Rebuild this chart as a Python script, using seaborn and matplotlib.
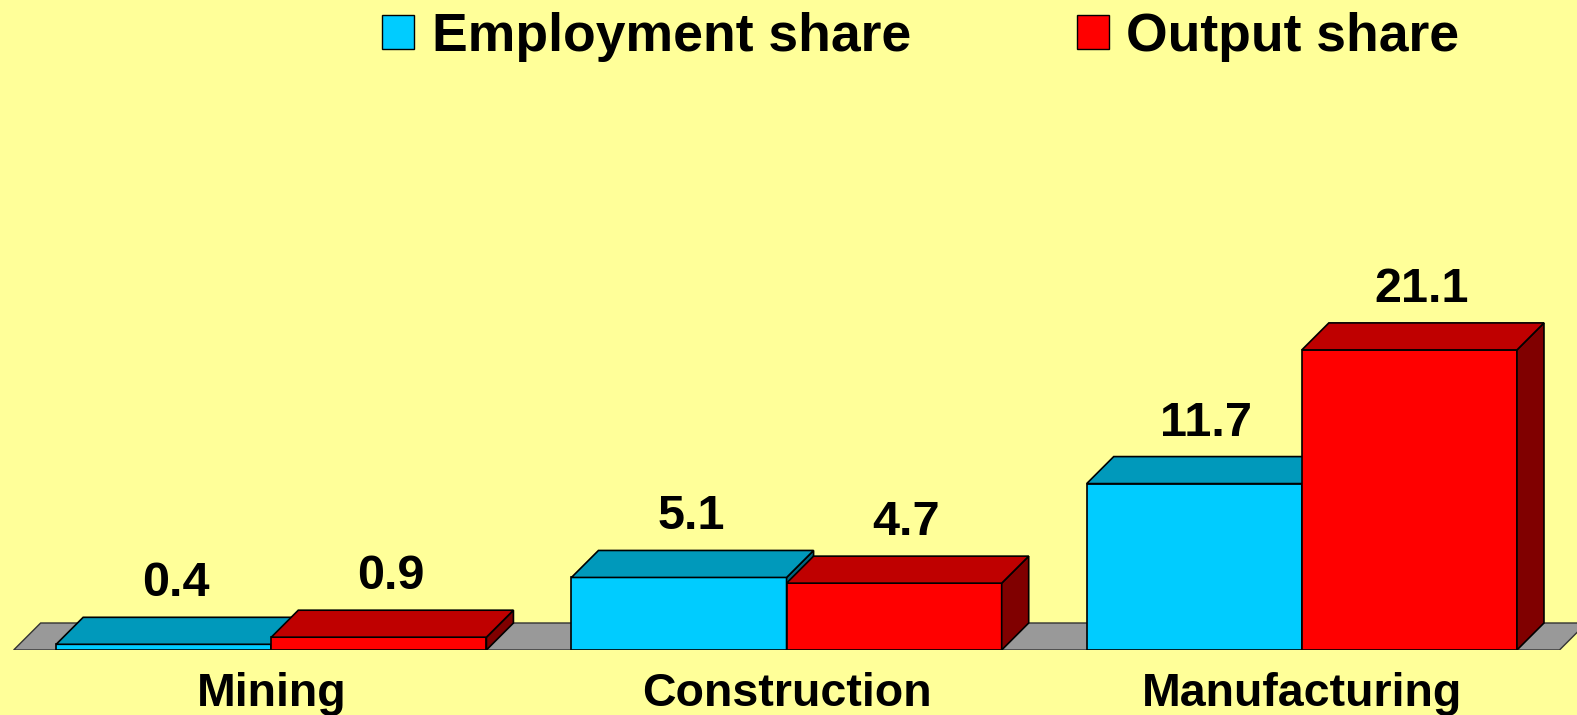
import pandas as pd
import matplotlib.pyplot as plt
from matplotlib.patches import Polygon, Patch
import seaborn as sns

# chart values
sectors = ['Mining', 'Construction', 'Manufacturing']
employment_share = [0.4, 5.1, 11.7]
output_share = [0.9, 4.7, 21.1]
series_names = ['Employment share', 'Output share']

# colours: front / top / side faces of the pseudo 3D bars
front_colors = ['#00CCFF', '#FF0000']
top_colors = ['#0099BB', '#BF0000']
side_colors = ['#006680', '#800000']
floor_color = '#999999'
bg = '#FFFF99'

df = pd.DataFrame({
    'sector': sectors * 2,
    'share': employment_share + output_share,
    'series': [series_names[0]] * len(sectors) + [series_names[1]] * len(sectors),
})

sns.set_theme(style='white')
plt.rcParams['font.family'] = ['Liberation Sans', 'DejaVu Sans']
plt.rcParams['font.weight'] = 'bold'
plt.rcParams['text.color'] = 'black'

fig = plt.figure(figsize=(15.77, 7.15), dpi=100, facecolor=bg)
ax = fig.add_axes([0, 65 / 715, 1, 650 / 715])
ax.set_facecolor('none')

sns.barplot(data=df, x='sector', y='share', hue='series', palette=front_colors,
            saturation=1, width=0.835, edgecolor='black', linewidth=1.2,
            legend=False, ax=ax)

ax.set_xlim(-0.5265, 2.534)
ax.set_ylim(0, 45.7)
ax.axis('off')

# depth of the 3D effect, 27 px back and up, expressed in data units
inv = ax.transData.inverted()
x0, y0 = inv.transform((0, 0))
x1, y1 = inv.transform((27, 27))
ddx, ddy = x1 - x0, y1 - y0

bars = list(ax.patches)
n = len(sectors)

# grey floor
left, right = -0.5, n - 0.5
floor = Polygon([(left, 0), (right, 0), (right + ddx, ddy), (left + ddx, ddy)],
                closed=True, facecolor=floor_color, edgecolor='#333333',
                linewidth=1, zorder=0.5)
ax.add_patch(floor)

for k, bar in enumerate(bars):
    s = k // n
    x, w, h = bar.get_x(), bar.get_width(), bar.get_height()
    bar.set_zorder(2 + 2 * s)
    top = Polygon([(x, h), (x + w, h), (x + w + ddx, h + ddy), (x + ddx, h + ddy)],
                  closed=True, facecolor=top_colors[s], edgecolor='black',
                  linewidth=1.2, zorder=3 + 2 * s)
    side = Polygon([(x + w, 0), (x + w + ddx, ddy), (x + w + ddx, h + ddy), (x + w, h)],
                   closed=True, facecolor=side_colors[s], edgecolor='black',
                   linewidth=1.2, zorder=3 + 2 * s)
    ax.add_patch(side)
    ax.add_patch(top)
    ax.annotate(f'{h:.1f}', (x + w / 2, h), xytext=(12 * 0.72, (27 + 21) * 0.72),
                textcoords='offset points', ha='center', va='baseline',
                fontsize=35, fontweight='bold', color='black', zorder=10)

# category labels under the floor
for i, name in enumerate(sectors):
    ax.annotate(name, (i, 0), xytext=(0, -56 * 0.72), textcoords='offset points',
                ha='center', va='baseline', fontsize=33.5, fontweight='bold',
                color='black', annotation_clip=False)

handles = [Patch(facecolor=c, edgecolor='black', linewidth=1) for c in front_colors]
fig.legend(handles, series_names, loc='center left',
           bbox_to_anchor=(382 / 1577, 1 - 37 / 715), ncol=2, frameon=False,
           fontsize=38.5, labelcolor='black', handlelength=0.6, handleheight=0.6,
           handletextpad=0.33, columnspacing=3.1, borderpad=0, borderaxespad=0)

fig.savefig('out.png', dpi=100, facecolor=bg)
plt.close()
